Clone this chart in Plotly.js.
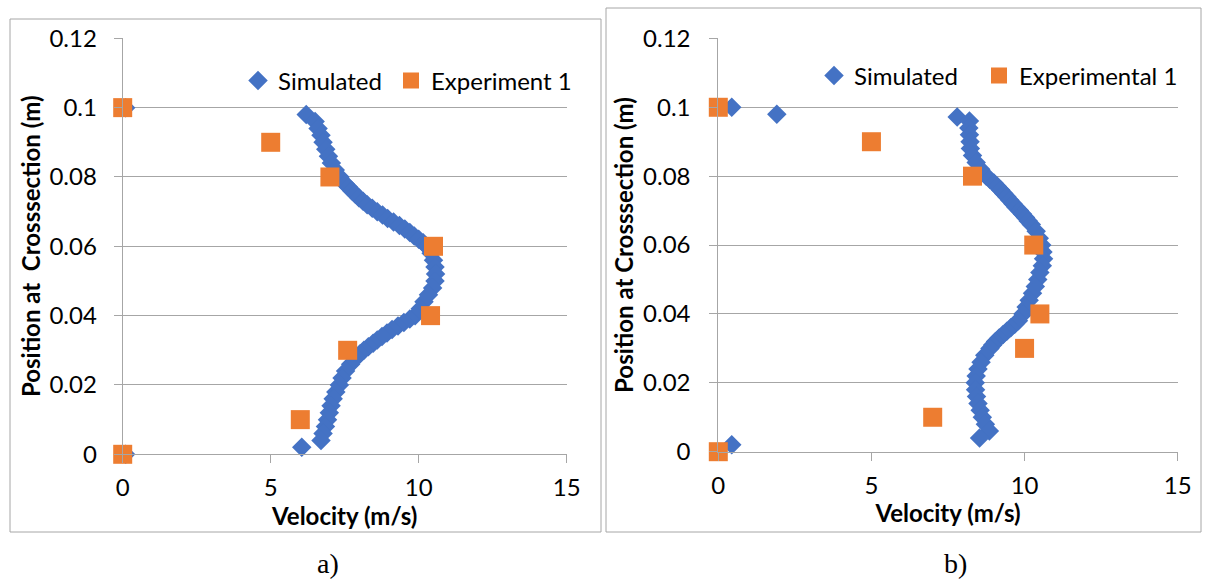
<!DOCTYPE html>
<html><head><meta charset="utf-8">
<script src="https://cdn.plot.ly/plotly-3.0.1.min.js"></script>
<style>html,body{margin:0;padding:0;background:#fff}#chart{width:1205px;height:579px}</style>
</head><body><div id="chart"></div>
<script>
// ---- Panel a) ----
const simA_pos = [0.100,0.098,0.096,0.094,0.092,0.090,0.088,0.086,0.084,0.082,0.080,0.078,0.077,0.076,0.075,0.074,0.073,0.072,0.071,0.070,0.069,0.068,0.067,0.066,0.065,0.064,0.063,0.062,0.061,0.060,0.058,0.056,0.054,0.052,0.050,0.048,0.046,0.044,0.042,0.040,0.039,0.038,0.037,0.036,0.035,0.034,0.033,0.032,0.031,0.030,0.029,0.028,0.026,0.024,0.022,0.020,0.018,0.016,0.014,0.012,0.010,0.008,0.006,0.004,0.002,0.000];
const simA_vel = [0.1,6.2,6.5,6.6,6.7,6.77,6.86,6.95,7.05,7.18,7.34,7.52,7.63,7.74,7.86,7.98,8.12,8.26,8.43,8.6,8.78,8.95,9.15,9.35,9.53,9.7,9.85,10.0,10.15,10.27,10.42,10.5,10.55,10.57,10.55,10.47,10.33,10.18,10.05,9.88,9.7,9.5,9.3,9.1,8.93,8.76,8.6,8.46,8.3,8.15,8.02,7.9,7.7,7.53,7.41,7.32,7.2,7.11,7.04,6.98,6.92,6.85,6.77,6.7,6.05,0.1];
const expA_pos = [0.10,0.09,0.08,0.06,0.04,0.03,0.01,0.00];
const expA_vel = [0,5.0,7.0,10.5,10.4,7.6,6.0,0];

// ---- Panel b) ----
const simB_pos = [0.100,0.098,0.0972,0.096,0.094,0.092,0.090,0.088,0.086,0.084,0.082,0.080,0.079,0.078,0.077,0.076,0.075,0.074,0.073,0.072,0.071,0.070,0.069,0.068,0.067,0.066,0.064,0.062,0.060,0.058,0.056,0.054,0.052,0.050,0.048,0.046,0.044,0.042,0.040,0.038,0.037,0.036,0.035,0.034,0.033,0.032,0.031,0.030,0.028,0.026,0.024,0.022,0.020,0.018,0.016,0.014,0.012,0.010,0.008,0.006,0.004,0.002];
const simB_vel = [0.44,1.91,7.8,8.2,8.18,8.2,8.22,8.23,8.3,8.42,8.57,8.75,8.87,9.0,9.11,9.22,9.32,9.42,9.52,9.62,9.72,9.83,9.93,10.03,10.12,10.22,10.38,10.48,10.56,10.6,10.62,10.58,10.5,10.43,10.35,10.26,10.15,10.05,9.95,9.8,9.68,9.55,9.42,9.3,9.17,9.05,8.96,8.87,8.7,8.58,8.48,8.42,8.39,8.4,8.43,8.48,8.55,8.62,8.72,8.85,8.53,0.44];
const expB_pos = [0.10,0.09,0.08,0.06,0.04,0.03,0.01,0.00];
const expB_vel = [0,5.0,8.3,10.3,10.5,10.0,7.0,0];

// ---- Axis ticks / labels ----
const yTickVals = [0,0.02,0.04,0.06,0.08,0.1,0.12];
const yTickText = ["0","0.02","0.04","0.06","0.08","0.1","0.12"];
const xTickVals = [0,5,10,15];
const xTickText = ["0","5","10","15"];
const seriesNames = {a:["Simulated","Experiment 1"], b:["Simulated","Experimental 1"]};
const xTitle = "Velocity (m/s)";
const yTitleA = "Position at&nbsp;&nbsp;Crosssection (m)";
const yTitleB = "Position at Crosssection (m)";
const captions = ["a)","b)"];

const W = 1205, H = 579;
const BLUE = "#4472C4", ORANGE = "#ED7D31", GRID = "#a6a6a6";
const FONT = "Lato, 'Open Sans', sans-serif";
const FS = 24;
const px = v => v / W;
const py = v => (H - v) / H;

const traces = [
  {x: simA_vel, y: simA_pos, xaxis:"x", yaxis:"y", type:"scatter", mode:"markers", name: seriesNames.a[0], legend:"legend", showlegend:true,
   marker:{symbol:"diamond", size:15, color:BLUE, line:{width:0}}, cliponaxis:false},
  {x: expA_vel, y: expA_pos, xaxis:"x", yaxis:"y", type:"scatter", mode:"markers", name: seriesNames.a[1], legend:"legend2", showlegend:true,
   marker:{symbol:"square", size:19, color:ORANGE, line:{width:0}}, cliponaxis:false},
  {x: simB_vel, y: simB_pos, xaxis:"x2", yaxis:"y2", type:"scatter", mode:"markers", name: seriesNames.b[0], legend:"legend3", showlegend:true,
   marker:{symbol:"diamond", size:15, color:BLUE, line:{width:0}}, cliponaxis:false},
  {x: expB_vel, y: expB_pos, xaxis:"x2", yaxis:"y2", type:"scatter", mode:"markers", name: seriesNames.b[1], legend:"legend4", showlegend:true,
   marker:{symbol:"square", size:19, color:ORANGE, line:{width:0}}, cliponaxis:false}
];

function xAxis(domain, anchor) {
  return {domain, anchor, range:[0,15], tickvals:xTickVals, ticktext:xTickText, showgrid:false, zeroline:false,
    showline:true, linecolor:GRID, linewidth:1, ticks:"outside", ticklen:8, tickcolor:GRID, tickwidth:1,
    ticklabelstandoff:4, tickfont:{family:FONT, size:FS, color:"#000"},
    title:{text:xTitle, font:{family:FONT, size:FS, color:"#000", weight:"bold"}, standoff:0}, fixedrange:true};
}
function yAxis(domain, anchor, title, standoff) {
  return {domain, anchor, range:[0,0.12], tickvals:yTickVals, ticktext:yTickText, showgrid:true, gridcolor:GRID, gridwidth:1,
    zeroline:false, showline:true, linecolor:GRID, linewidth:1, ticks:"outside", ticklen:8, tickcolor:GRID, tickwidth:1,
    ticklabelstandoff:standoff, tickfont:{family:FONT, size:FS, color:"#000"},
    title:{text:title, font:{family:FONT, size:FS, color:"#000", weight:"bold"}, standoff:2}, fixedrange:true};
}
function legendAt(cx, cy) {
  return {visible:true, orientation:"h", x:px(cx - 20), y:py(cy), xanchor:"left", yanchor:"middle", bgcolor:"rgba(0,0,0,0)",
    font:{family:FONT, size:FS, color:"#000"}, itemclick:false, itemdoubleclick:false};
}

const layout = {
  width:W, height:H, margin:{l:0,r:0,t:0,b:0}, paper_bgcolor:"#fff", plot_bgcolor:"rgba(0,0,0,0)",
  font:{family:FONT, color:"#000"}, showlegend:true,
  xaxis: xAxis([px(122.7), px(566.7)], "y"),
  yaxis: yAxis([py(454.3), py(38.3)], "x", yTitleA, 12),
  xaxis2: xAxis([px(718.3), px(1177.7)], "y2"),
  yaxis2: yAxis([py(451.7), py(38.4)], "x2", yTitleB, 14),
  legend: legendAt(258, 81),
  legend2: legendAt(411, 81),
  legend3: legendAt(834, 76),
  legend4: legendAt(999, 76),
  shapes: [
    {type:"rect", xref:"paper", yref:"paper", x0:px(10), x1:px(601), y0:py(532), y1:py(19), line:{color:"#a6a6a6", width:1}},
    {type:"rect", xref:"paper", yref:"paper", x0:px(606), x1:px(1201), y0:py(532), y1:py(8), line:{color:"#a6a6a6", width:1}}
  ],
  annotations: [
    {text:captions[0], xref:"paper", yref:"paper", x:px(328), y:py(563), xanchor:"center", yanchor:"middle", showarrow:false,
     font:{family:"'Liberation Serif', 'DejaVu Serif', serif", size:28, color:"#000"}},
    {text:captions[1], xref:"paper", yref:"paper", x:px(955), y:py(563), xanchor:"center", yanchor:"middle", showarrow:false,
     font:{family:"'Liberation Serif', 'DejaVu Serif', serif", size:28, color:"#000"}}
  ]
};

Plotly.newPlot("chart", traces, layout, {staticPlot:true, displayModeBar:false});
</script>
</body></html>
